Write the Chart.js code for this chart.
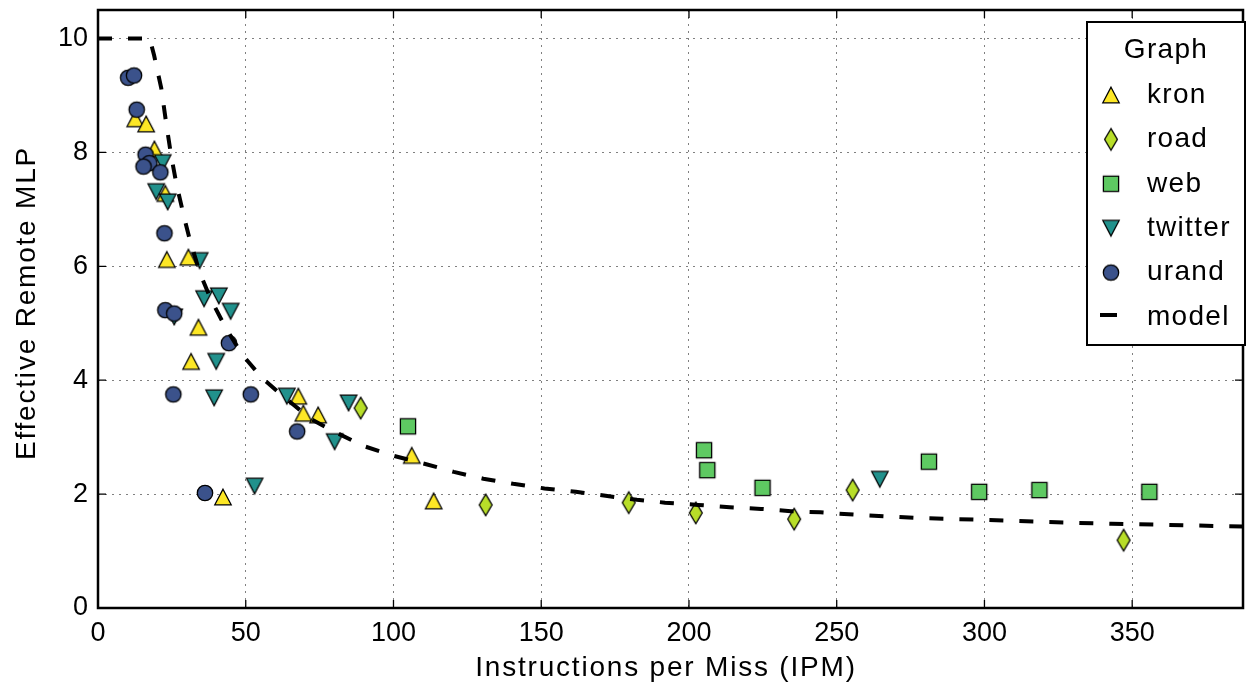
<!DOCTYPE html>
<html>
<head>
<meta charset="utf-8">
<script src="https://cdn.jsdelivr.net/npm/chart.js@4.4.1/dist/chart.umd.min.js"></script>
<style>
  html, body { margin: 0; padding: 0; background: #fff; }
  canvas { display: block; }
</style>
</head>
<body>
<canvas id="mlp" width="1253" height="688"></canvas>
<script>
// values
const kronIpm = [12.6, 16.3, 19.1, 22.8, 23.3, 30.6, 34.0, 31.5, 42.3, 67.8, 69.5, 74.5, 106.2, 113.6];
const kronMlp = [8.59, 8.50, 8.06, 7.28, 6.12, 6.16, 4.93, 4.33, 1.95, 3.72, 3.42, 3.39, 2.68, 1.88];

const roadIpm = [88.9, 131.2, 179.6, 202.3, 235.6, 255.4, 347.1];
const roadMlp = [3.51, 1.81, 1.85, 1.67, 1.56, 2.07, 1.19];

const webIpm = [104.9, 205.1, 206.2, 224.9, 281.2, 298.2, 318.6, 355.8];
const webMlp = [3.19, 2.77, 2.42, 2.11, 2.57, 2.04, 2.07, 2.04];

const twitterIpm = [21.9, 19.7, 23.6, 34.4, 35.9, 40.9, 44.9, 25.8, 40.0, 39.3, 63.9, 84.8, 80.1, 53.0, 264.6];
const twitterMlp = [7.82, 7.31, 7.13, 6.10, 5.43, 5.48, 5.21, 5.11, 4.33, 3.69, 3.72, 3.60, 2.92, 2.14, 2.26];

const urandIpm = [10.2, 12.2, 13.1, 16.1, 17.4, 15.4, 21.1, 22.5, 22.8, 25.8, 44.3, 25.5, 51.7, 67.4, 36.2];
const urandMlp = [9.31, 9.35, 8.75, 7.96, 7.81, 7.75, 7.65, 6.58, 5.23, 5.17, 4.65, 3.75, 3.75, 3.10, 2.02];

const modelIpm = [0, 17.5, 19.0, 21.4, 23.0, 24.7, 26.6, 29.2, 30.9, 34.5, 38.2, 43.2, 48.8, 55.5, 63.3,
  72.3, 80.6, 90.1, 100.2, 111.4, 120.4, 130.4, 140.5, 151.1, 161.7, 171.8, 182.4, 191.9, 203.1,
  213.8, 224.4, 234.5, 244.5, 255.7, 277.0, 298.2, 320.5, 343.0, 387.5];
const modelMlp = [10, 10, 9.70, 9.13, 8.54, 7.96, 7.43, 6.85, 6.50, 5.88, 5.42, 4.92, 4.45, 4.04, 3.69,
  3.31, 3.08, 2.84, 2.67, 2.52, 2.39, 2.27, 2.18, 2.10, 2.04, 1.97, 1.90, 1.85, 1.81,
  1.77, 1.74, 1.70, 1.68, 1.64, 1.58, 1.55, 1.51, 1.48, 1.43];

const xTicks = [0, 50, 100, 150, 200, 250, 300, 350];
const yTicks = [0, 2, 4, 6, 8, 10];

const xTitle = 'Instructions per Miss (IPM)';
const yTitle = 'Effective Remote MLP';
const legendTitle = 'Graph';

const FONT = "'Liberation Sans', Arial, Helvetica, sans-serif";

function pts(xs, ys) {
  return xs.map((x, i) => ({ x: x, y: ys[i] }));
}

// matplotlib-like markers
function marker(shape, fill) {
  const c = document.createElement('canvas');
  c.width = 26; c.height = 26;
  const g = c.getContext('2d');
  g.translate(13, 13);
  g.beginPath();
  if (shape === 'circle') {
    g.arc(0, 0, 7.7, 0, Math.PI * 2);
  } else if (shape === 'up') {
    g.moveTo(0, -7.8); g.lineTo(8.2, 7.8); g.lineTo(-8.2, 7.8); g.closePath();
  } else if (shape === 'down') {
    g.moveTo(0, 7.8); g.lineTo(8.2, -7.8); g.lineTo(-8.2, -7.8); g.closePath();
  } else if (shape === 'square') {
    g.rect(-7.6, -7.6, 15.2, 15.2);
  } else if (shape === 'diamond') {
    g.moveTo(0, -10.8); g.lineTo(6.4, 0); g.lineTo(0, 10.8); g.lineTo(-6.4, 0); g.closePath();
  }
  g.fillStyle = fill;
  g.fill();
  g.lineWidth = 1.3;
  g.strokeStyle = '#000';
  g.stroke();
  return c;
}

function scatterSet(label, xs, ys, shape, color, order) {
  return {
    label: label,
    data: pts(xs, ys),
    pointStyle: marker(shape, color),
    pointRadius: 9,
    order: order
  };
}

// frame, inward ticks, axis titles and the legend box
const framePlugin = {
  id: 'frame',
  afterDraw(chart) {
    const { ctx, chartArea: a, scales } = chart;
    ctx.save();
    ctx.strokeStyle = '#000';
    ctx.lineWidth = 1.3;
    ctx.beginPath();
    xTicks.forEach(v => {
      const px = scales.x.getPixelForValue(v);
      ctx.moveTo(px, a.bottom); ctx.lineTo(px, a.bottom - 8);
      ctx.moveTo(px, a.top); ctx.lineTo(px, a.top + 8);
    });
    yTicks.forEach(v => {
      const py = scales.y.getPixelForValue(v);
      ctx.moveTo(a.left, py); ctx.lineTo(a.left + 8, py);
      ctx.moveTo(a.right, py); ctx.lineTo(a.right - 8, py);
    });
    ctx.stroke();
    ctx.lineWidth = 2.5;
    ctx.strokeRect(a.left, a.top, a.right - a.left, a.bottom - a.top);

    ctx.fillStyle = '#000';
    ctx.font = '28px ' + FONT;
    ctx.letterSpacing = '1.8px';
    ctx.textBaseline = 'middle';
    ctx.textAlign = 'center';
    ctx.fillText(xTitle, 666, 668);
    ctx.save();
    ctx.translate(27, 303);
    ctx.rotate(-Math.PI / 2);
    ctx.fillText(yTitle, 0, 0);
    ctx.restore();

    // legend
    const bx = 1087, by = 22, bw = 158, bh = 323;
    ctx.fillStyle = '#fff';
    ctx.fillRect(bx, by, bw, bh);
    ctx.lineWidth = 2;
    ctx.strokeRect(bx, by, bw, bh);
    ctx.fillStyle = '#000';
    ctx.letterSpacing = '1.3px';
    ctx.fillText(legendTitle, bx + bw / 2, 50);
    ctx.textAlign = 'left';
    chart.data.datasets.forEach((ds, i) => {
      const y = 95 + i * 44.4;
      if (ds.showLine) {
        ctx.lineWidth = 4;
        ctx.beginPath();
        ctx.moveTo(1100, y - 2); ctx.lineTo(1117, y - 2);
        ctx.stroke();
      } else {
        ctx.drawImage(ds.pointStyle, 1111 - 13, y - 13);
      }
      ctx.fillText(ds.label, 1147, y);
    });
    ctx.restore();
  }
};

const tickFont = { family: FONT, size: 27 };

function noPad(s) {
  s.paddingTop = 0; s.paddingBottom = 0; s.paddingLeft = 0; s.paddingRight = 0;
}

new Chart(document.getElementById('mlp'), {
  type: 'scatter',
  data: {
    datasets: [
      scatterSet('kron', kronIpm, kronMlp, 'up', '#fde725', 5),
      scatterSet('road', roadIpm, roadMlp, 'diamond', '#b8de29', 4),
      scatterSet('web', webIpm, webMlp, 'square', '#5ec962', 3),
      scatterSet('twitter', twitterIpm, twitterMlp, 'down', '#21918c', 2),
      scatterSet('urand', urandIpm, urandMlp, 'circle', '#3b528b', 1),
      {
        label: 'model',
        data: pts(modelIpm, modelMlp),
        showLine: true,
        pointRadius: 0,
        borderColor: '#000',
        borderWidth: 4,
        borderDash: [14, 16],
        fill: false,
        order: 0
      }
    ]
  },
  options: {
    responsive: false,
    devicePixelRatio: 1,
    animation: false,
    layout: { padding: { top: 9, right: 1, left: 0, bottom: 0 } },
    plugins: { legend: { display: false }, tooltip: { enabled: false } },
    scales: {
      x: {
        type: 'linear', min: 0, max: 387.5,
        afterBuildTicks: s => { s.ticks = xTicks.map(v => ({ value: v })); },
        afterFit: s => { s.height = 80; noPad(s); },
        grid: { color: '#808080', lineWidth: 1, drawTicks: false },
        border: { display: false, dash: [2, 5] },
        ticks: { color: '#000', font: tickFont, padding: 9, maxRotation: 0 }
      },
      y: {
        type: 'linear', min: 0, max: 10.5,
        afterBuildTicks: s => { s.ticks = yTicks.map(v => ({ value: v })); },
        afterFit: s => { s.width = 98; noPad(s); },
        grid: { color: '#808080', lineWidth: 1, drawTicks: false },
        border: { display: false, dash: [2, 5] },
        ticks: { color: '#000', font: tickFont, padding: 10 }
      }
    }
  },
  plugins: [framePlugin]
});
</script>
</body>
</html>
